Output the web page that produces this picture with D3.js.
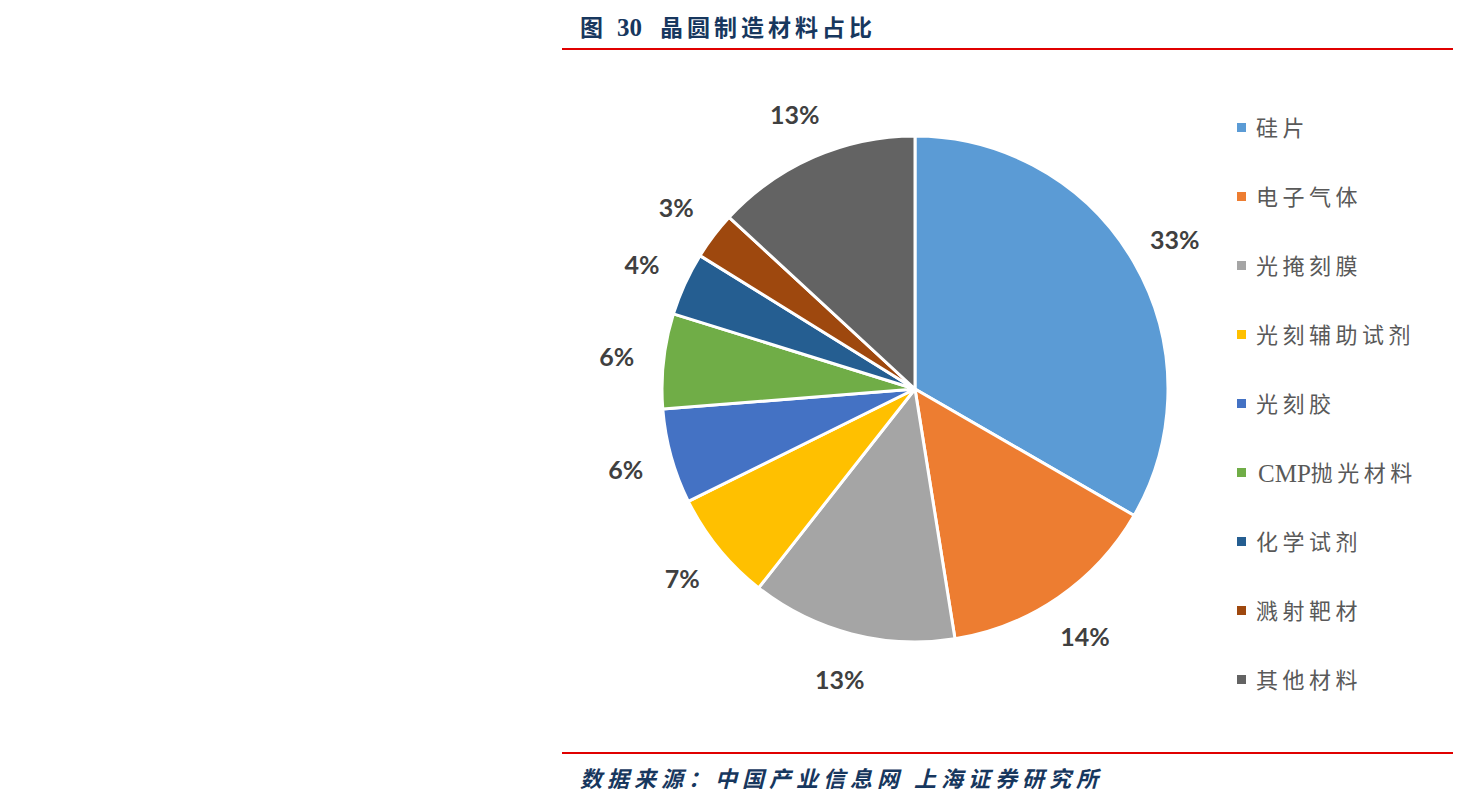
<!DOCTYPE html>
<html>
<head>
<meta charset="utf-8">
<script src="https://cdn.jsdelivr.net/npm/d3@7/dist/d3.min.js"></script>
<style>
  html, body { margin: 0; padding: 0; background: #fff; }
  svg { display: block; }
</style>
</head>
<body>
<svg id="chart" width="1461" height="804"></svg>
<script>
// Wafer manufacturing material shares (%)
const categories = ["硅片", "电子气体", "光掩刻膜", "光刻辅助试剂", "光刻胶", "CMP抛光材料", "化学试剂", "溅射靶材", "其他材料"];
const shares = [33, 14, 13, 7, 6, 6, 4, 3, 13];
const colors = ["#5B9BD5", "#ED7D31", "#A5A5A5", "#FFC000", "#4472C4", "#70AD47", "#255E91", "#9E480E", "#636363"];

const figureLabel = "图";
const figureNumber = "30";
const titleText = "晶圆制造材料占比";
const sourceText = "数据来源：中国产业信息网 上海证券研究所";

const svg = d3.select("#chart");
const headFont = "'Liberation Serif', 'Noto Sans CJK SC', serif";

// Writes mixed CJK / Latin text: CJK runs are spaced out, Latin runs stay tight.
function mixedText(sel, str, cjkSpacing, latinSize) {
  const runs = str.match(/[\x20-\x7E]+|[^\x20-\x7E]+/g) || [];
  runs.forEach(r => {
    const latin = /^[\x20-\x7E]+$/.test(r);
    const t = sel.append("tspan").text(r);
    if (latin && r.trim().length) {
      t.attr("letter-spacing", 0);
      if (latinSize) t.attr("font-size", latinSize);
      t.attr("dx", 2);
    } else {
      t.attr("letter-spacing", cjkSpacing);
    }
  });
}

// header
const title = svg.append("text")
  .attr("y", 36)
  .attr("font-family", headFont)
  .attr("font-weight", 700)
  .attr("font-size", 23)
  .attr("fill", "#17375E");
title.append("tspan").attr("x", 580).text(figureLabel);
title.append("tspan").attr("x", 617).attr("font-size", 25).text(figureNumber);
title.append("tspan").attr("x", 660).attr("letter-spacing", 4).text(titleText);

svg.append("line")
  .attr("x1", 562).attr("x2", 1453)
  .attr("y1", 49).attr("y2", 49)
  .attr("stroke", "#E00000").attr("stroke-width", 2);

// footer
svg.append("line")
  .attr("x1", 562).attr("x2", 1453)
  .attr("y1", 753).attr("y2", 753)
  .attr("stroke", "#E00000").attr("stroke-width", 2);

svg.append("text")
  .attr("x", 580).attr("y", 787)
  .attr("font-family", "'Noto Sans CJK SC', sans-serif")
  .attr("font-weight", 700)
  .attr("font-style", "italic")
  .attr("font-size", 22)
  .attr("letter-spacing", 5)
  .attr("fill", "#17375E")
  .text(sourceText);

// pie
const cx = 915, cy = 389, radius = 253, labelRadius = 300;
const data = categories.map((c, i) => ({ name: c, value: shares[i], color: colors[i] }));
const total = d3.sum(shares);

const pie = d3.pie().value(d => d.value).sort(null);
const arc = d3.arc().innerRadius(0).outerRadius(radius);
const labelArc = d3.arc().innerRadius(labelRadius).outerRadius(labelRadius);

const g = svg.append("g").attr("transform", `translate(${cx},${cy})`);
const arcs = pie(data);

g.selectAll("path.slice")
  .data(arcs)
  .join("path")
  .attr("class", "slice")
  .attr("d", arc)
  .attr("fill", d => d.data.color)
  .attr("stroke", "#fff")
  .attr("stroke-width", 3)
  .attr("stroke-linejoin", "round");

g.selectAll("text.pct")
  .data(arcs)
  .join("text")
  .attr("class", "pct")
  .attr("transform", d => `translate(${labelArc.centroid(d)})`)
  .attr("text-anchor", "middle")
  .attr("dominant-baseline", "central")
  .attr("font-family", "Lato, 'Open Sans', sans-serif")
  .attr("font-weight", 700)
  .attr("font-size", 25)
  .attr("fill", "#404040")
  .text(d => Math.round(d.data.value / total * 100) + "%");

// legend
const legendY = d3.scalePoint().domain(categories).range([128, 680]);
const legend = svg.append("g");
const items = legend.selectAll("g.item")
  .data(data)
  .join("g")
  .attr("class", "item")
  .attr("transform", d => `translate(1237,${legendY(d.name)})`);

items.append("rect")
  .attr("x", 0).attr("y", -5)
  .attr("width", 9).attr("height", 9)
  .attr("fill", d => d.color);

items.append("text")
  .attr("x", 19).attr("y", 0)
  .attr("dominant-baseline", "central")
  .attr("font-family", "'Liberation Serif', 'Noto Sans CJK SC', serif")
  .attr("font-size", 22)
  .attr("fill", "#595959")
  .each(function (d) { mixedText(d3.select(this), d.name, 4.5, 25); });
</script>
</body>
</html>
